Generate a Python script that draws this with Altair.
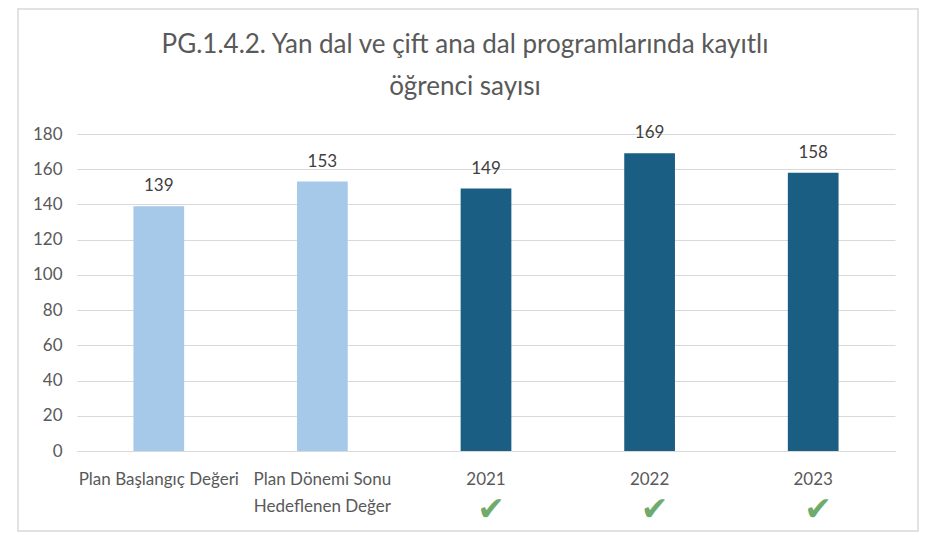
import altair as alt
import pandas as pd

categories = ["Plan Başlangıç Değeri", "Plan Dönemi Sonu|Hedeflenen Değer", "2021", "2022", "2023"]
values = [139, 153, 149, 169, 158]
kinds = ["plan", "plan", "actual", "actual", "actual"]
achieved = [False, False, True, True, True]
y_ticks = [0, 20, 40, 60, 80, 100, 120, 140, 160, 180]
title_text = "PG.1.4.2. Yan dal ve çift ana dal programlarında kayıtlı\nöğrenci sayısı"

df = pd.DataFrame({"cat": categories, "value": values, "kind": kinds, "ok": achieved})

FONT = "Lato"
W, H = 818, 317

x_scale = alt.Scale(paddingInner=0.69, paddingOuter=0.345)
y_scale = alt.Scale(domain=[0, 180], nice=False)

x_axis = alt.Axis(
    labelAngle=0,
    labelExpr="split(datum.label, '|')",
    labelFont=FONT,
    labelFontSize=17,
    labelColor="#595959",
    labelPadding=20,
    labelLineHeight=27,
    labelBaseline="top",
    ticks=False,
    domain=True,
    domainColor="#d9d9d9",
    grid=False,
)
y_axis = alt.Axis(
    values=y_ticks,
    labelOverlap=False,
    labelFont=FONT,
    labelFontSize=17,
    labelColor="#595959",
    labelPadding=15,
    ticks=False,
    domain=False,
    grid=True,
    gridColor="#d9d9d9",
    gridWidth=1,
)

x_enc = alt.X("cat:N", sort=categories, title=None, scale=x_scale, axis=x_axis)
y_enc = alt.Y("value:Q", title=None, scale=y_scale, axis=y_axis)

bars = alt.Chart(df).mark_bar().encode(
    x=x_enc,
    y=y_enc,
    color=alt.Color(
        "kind:N",
        scale=alt.Scale(domain=["plan", "actual"], range=["#a6c9ea", "#1a5e83"]),
        legend=None,
    ),
)

labels = alt.Chart(df).mark_text(
    font=FONT, fontSize=17, color="#404040", dy=-15, baseline="alphabetic"
).encode(
    x=x_enc,
    y=y_enc,
    text="value:Q",
)

checks = alt.Chart(df).transform_filter("datum.ok").mark_text(
    font="DejaVu Sans", fontSize=33, color="#6fab6c", baseline="middle", dx=5
).encode(
    x=x_enc,
    y=alt.value(H + 59),
    text=alt.value("✔"),
)

title = alt.Chart(alt.Data(values=[{"t": title_text}])).mark_text(
    font=FONT, fontSize=26, color="#595959", align="center",
    baseline="alphabetic", lineBreak="\n", lineHeight=42,
).encode(
    x=alt.value(W / 2 - 21),
    y=alt.value(-81),
    text="t:N",
)

border = alt.Chart(alt.Data(values=[{}])).mark_rect(
    fill=None, stroke="#d9d9d9", strokeWidth=1.5
).encode(
    x=alt.value(-59), x2=alt.value(841), y=alt.value(-125), y2=alt.value(397)
)

chart = alt.layer(bars, labels, checks, title, border).properties(
    width=W,
    height=H,
    autosize=alt.AutoSizeParams(type="none"),
    padding={"left": 69, "top": 126, "right": 26, "bottom": 82},
).configure(background="white").configure_view(strokeWidth=0)

chart.save("out.html", embed_options={"renderer": "svg", "actions": False})
